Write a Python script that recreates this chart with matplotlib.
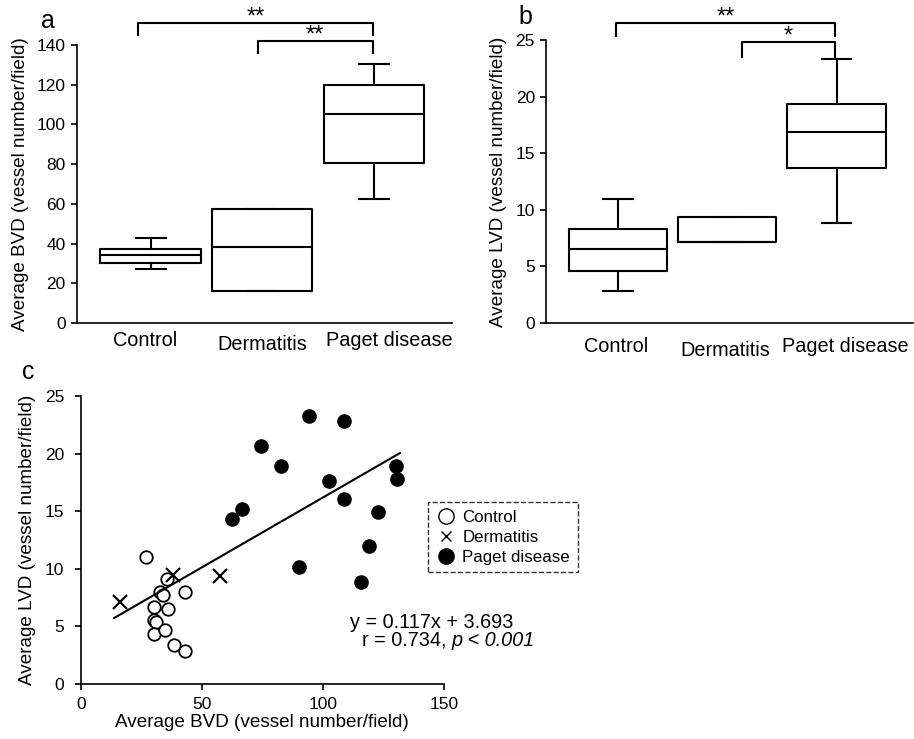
import numpy as np
import matplotlib
matplotlib.use("Agg")
from matplotlib import pyplot as plt
from matplotlib import transforms

plt.rcParams['font.family'] = ['Liberation Sans', 'DejaVu Sans']

groups = ['Control', 'Dermatitis', 'Paget disease']

bvd_box = [(27.0, 30.2, 34.2, 37.2, 42.9),
           (15.9, 15.9, 38.2, 57.3, 57.3),
           (62.4, 80.5, 105.5, 119.9, 130.4)]
lvd_box = [(2.8, 4.55, 6.5, 8.25, 10.9),
           (7.15, 7.15, 7.15, 9.35, 9.35),
           (8.85, 13.7, 16.85, 19.35, 23.3)]

# panel c points (BVD, LVD)
ctrl_bvd = [27.0, 32.8, 34.1, 35.8, 43.1, 30.3, 35.9, 30.3, 31.0, 30.3, 35.0, 38.5, 43.1]
ctrl_lvd = [11.0, 8.0, 7.7, 9.1, 8.0, 6.65, 6.5, 5.6, 5.4, 4.35, 4.7, 3.4, 2.85]
derm_bvd = [16.1, 38.0, 57.5]
derm_lvd = [7.15, 9.45, 9.35]
paget_bvd = [94.3, 108.7, 74.5, 82.6, 102.7, 130.2, 130.5, 108.9, 66.7, 62.5, 122.6, 119.2, 90.0, 115.6]
paget_lvd = [23.3, 22.8, 20.7, 18.9, 17.6, 18.95, 17.8, 16.1, 15.2, 14.3, 14.9, 12.0, 10.2, 8.85]
# trend line as drawn in panel c
trend_x = [13.8, 131.8]
trend_y = [5.73, 20.05]

lw = 1.5


def boxpanel(ax, boxes, ymax, ystep, ylabel, brackets, lab_shift, lab_pad):
    stats = []
    for name, (lo, q1, med, q3, hi) in zip(groups, boxes):
        stats.append(dict(label=name, whislo=lo, q1=q1, med=med, q3=q3, whishi=hi))
    ax.bxp(stats, positions=[1, 2, 3], widths=0.9, showfliers=False,
           boxprops=dict(color='black', linewidth=lw),
           whiskerprops=dict(color='black', linewidth=lw),
           capprops=dict(color='black', linewidth=lw),
           medianprops=dict(color='black', linewidth=lw),
           capwidths=0.27)
    ax.set_xticks(np.array([1, 2, 3]) + np.array(lab_shift))
    ax.set_xticklabels(groups)
    ax.set_xlim(0.34, 3.7)
    ax.set_ylim(0, ymax)
    ax.set_yticks(np.arange(0, ymax + 1, ystep))
    for s in ['top', 'right']:
        ax.spines[s].set_visible(False)
    for s in ['left', 'bottom']:
        ax.spines[s].set_linewidth(1.2)
    ax.tick_params(axis='y', labelsize=12.5, length=4, width=1.2, direction='out', pad=4)
    ax.tick_params(axis='x', labelsize=14.3, length=0, pad=lab_pad)
    # Dermatitis label sits a little lower
    lbl = ax.get_xticklabels()[1]
    lbl.set_transform(lbl.get_transform() + transforms.ScaledTranslation(0, -4 / 100, fig.dpi_scale_trans))
    ax.set_ylabel(ylabel, fontsize=13.6, labelpad=6)
    # significance brackets
    for x0, x1, y, leg, star in brackets:
        ax.plot([x0, x0, x1, x1], [y - leg, y, y, y - leg], color='black',
                lw=lw, clip_on=False)
        ax.annotate(star, xy=((x0 + x1) / 2, y), xytext=(0, -4), textcoords='offset points',
                    ha='center', va='bottom', fontsize=17, annotation_clip=False)


fig = plt.figure(figsize=(9.14, 7.39), dpi=100)

ax_a = fig.add_axes([0.0842, 0.5629, 0.4103, 0.3762])
boxpanel(ax_a, bvd_box, 140, 20, 'Average BVD (vessel number/field)',
         [(0.89, 2.99, 151.2, 6.2, '**'), (1.96, 2.99, 142.0, 6.0, '**')],
         [-0.045, 0.0, 0.14], 6)

ax_b = fig.add_axes([0.5974, 0.5633, 0.4015, 0.3825])
boxpanel(ax_b, lvd_box, 25, 5, 'Average LVD (vessel number/field)',
         [(0.98, 2.99, 26.5, 1.1, '**'), (2.13, 2.99, 24.8, 1.3, '*')],
         [-0.02, -0.02, 0.08], 10)

ax_c = fig.add_axes([0.0883, 0.0744, 0.3975, 0.3897])
ax_c.plot(ctrl_bvd, ctrl_lvd, 'o', ms=9, mfc='white', mec='black', mew=1.3,
          linestyle='none', label='Control')
ax_c.plot(derm_bvd, derm_lvd, 'x', ms=9.5, mec='black', mew=1.6,
          linestyle='none', label='Dermatitis')
ax_c.plot(paget_bvd, paget_lvd, 'o', ms=9.5, mfc='black', mec='black',
          linestyle='none', label='Paget disease')
ax_c.plot(trend_x, trend_y, color='black', lw=lw)

ax_c.set_xlim(0, 150)
ax_c.set_ylim(0, 25)
ax_c.set_xticks([0, 50, 100, 150])
ax_c.set_yticks([0, 5, 10, 15, 20, 25])
for s in ['top', 'right']:
    ax_c.spines[s].set_visible(False)
for s in ['left', 'bottom']:
    ax_c.spines[s].set_linewidth(1.2)
ax_c.tick_params(labelsize=12.5, length=4, width=1.2, direction='out')
ax_c.tick_params(axis='y', pad=8)
ax_c.tick_params(axis='x', pad=5)
ax_c.set_xlabel('Average BVD (vessel number/field)', fontsize=13.6, labelpad=2)
ax_c.set_ylabel('Average LVD (vessel number/field)', fontsize=13.6, labelpad=6)

leg = ax_c.legend(loc='upper left', bbox_to_anchor=(0.955, 0.632), fontsize=12.2,
                  frameon=True, fancybox=False, handletextpad=0.3, handlelength=1.3,
                  borderpad=0.45, labelspacing=0.3, borderaxespad=0)
leg.get_frame().set_edgecolor('black')
leg.get_frame().set_linestyle('--')
leg.get_frame().set_linewidth(1.0)
hs = leg.legend_handles
hs[0].set_markersize(11)
hs[0].set_markeredgewidth(1.0)
hs[1].set_markersize(7)
hs[1].set_markeredgewidth(1.0)
hs[2].set_markersize(11)

ax_c.text(0.741, 0.215, 'y = 0.117x + 3.693', transform=ax_c.transAxes,
          fontsize=14.3, ha='left', va='center')
t1 = ax_c.text(0.774, 0.152, 'r = 0.734, ', transform=ax_c.transAxes,
               fontsize=14.3, ha='left', va='center')
ax_c.annotate('p < 0.001', xy=(1, 0), xycoords=t1, ha='left', va='bottom',
              fontsize=14.3, style='italic')

fig.text(48 / 914, 1 - 21 / 739, 'a', fontsize=18, ha='center', va='center')
fig.text(525 / 914, 1 - 17 / 739, 'b', fontsize=18, ha='center', va='center')
fig.text(28 / 914, 1 - 372 / 739, 'c', fontsize=18, ha='center', va='center')

fig.savefig('out.png', dpi=100)
